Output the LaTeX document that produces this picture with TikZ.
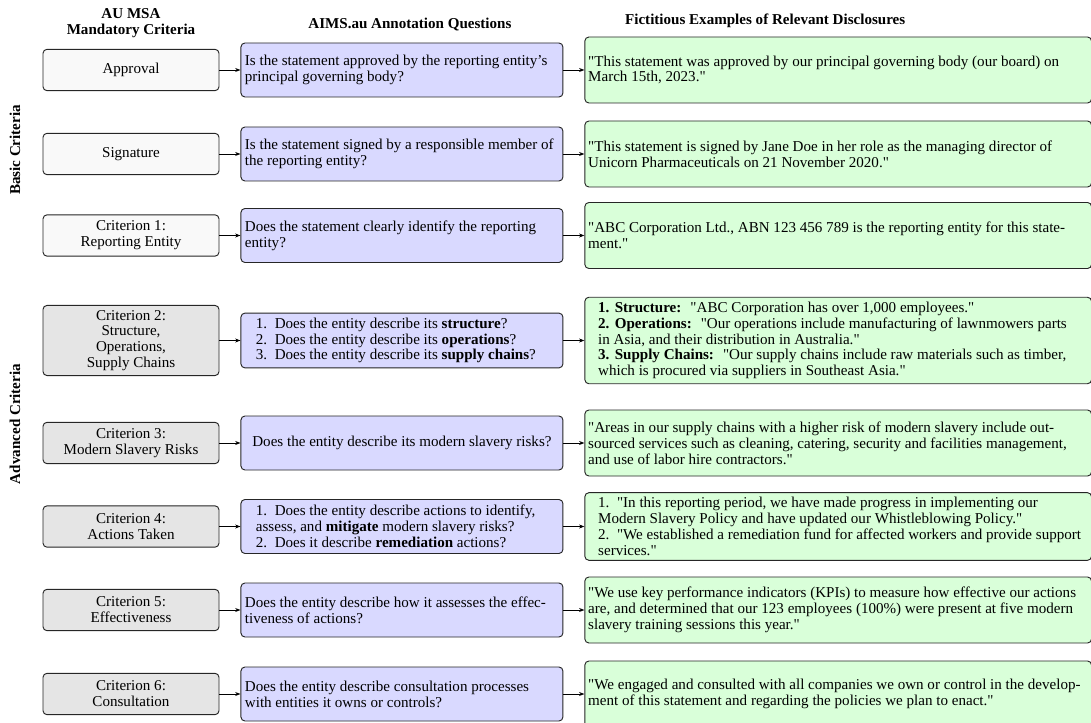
\documentclass[tikz,border=0pt]{standalone}
\usepackage{fontspec}
\setmainfont{Liberation Serif}[Ligatures=TeXOff]
\usetikzlibrary{arrows.meta, positioning}
\newcommand{\figfont}{\fontsize{11.3}{11.9}\selectfont}
\tikzset{
  crit/.style={rectangle, draw=black!85, fill=gray!5, rounded corners=3pt,
               minimum width=132pt, minimum height=31pt, inner ysep=3.5pt,
               align=flush center, font=\figfont, line width=0.7pt},
  advcrit/.style={crit, fill=gray!20},
  question/.style={rectangle, draw=black!85, fill=blue!15, rounded corners=3pt,
                   text width=235.5pt, inner xsep=3pt, inner ysep=3.5pt,
                   minimum height=40.5pt, align=flush left, font=\figfont, line width=0.7pt},
  disclosure/.style={rectangle, draw=black!85, fill=green!15, rounded corners=3pt,
                     text width=375pt, inner xsep=2.5pt, inner ysep=3.5pt,
                     minimum height=49.5pt, align=flush left, font=\figfont, line width=0.7pt},
  arrow/.style={-{Stealth[length=4pt, width=3pt]}, draw=black, line width=0.6pt},
  header/.style={font=\figfont\bfseries, align=flush center, text depth=0.25em},
  sidelabel/.style={font=\figfont\bfseries, rotate=90},
}
\begin{document}
\begin{tikzpicture}[x=0.75pt, y=-0.75pt]
  \useasboundingbox (0,0) rectangle (1091,723);

  % Criteria column
  \node[crit] (c1) at (131,70) {Approval};
  \node[crit] (c2) at (131,154) {Signature};
  \node[crit] (c3) at (131,235.5) {Criterion 1:\\Reporting Entity};
  \node[advcrit] (c4) at (131,340.5) {Criterion 2:\\Structure,\\Operations,\\Supply Chains};
  \node[advcrit] (c5) at (131,443) {Criterion 3:\\Modern Slavery Risks};
  \node[advcrit] (c6) at (131,526.5) {Criterion 4:\\Actions Taken};
  \node[advcrit] (c7) at (131,610) {Criterion 5:\\Effectiveness};
  \node[advcrit] (c8) at (131,694) {Criterion 6:\\Consultation};

  % Annotation questions
  \node[question, right=15.75pt of c1] (q1) {Is the statement approved by the reporting entity’s\\principal governing body?};
  \node[question, right=15.75pt of c2] (q2) {Is the statement signed by a responsible member of\\the reporting entity?};
  \node[question, right=15.75pt of c3] (q3) {Does the statement clearly identify the reporting\\entity?};
  \node[question, right=15.75pt of c4] (q4) {\leftskip=8.25pt
    1.\enspace Does the entity describe its \textbf{structure}?\\
    2.\enspace Does the entity describe its \textbf{operations}?\\
    3.\enspace Does the entity describe its \textbf{supply chains}?\par};
  \node[question, align=flush center, right=15.75pt of c5] (q5) {Does the entity describe its modern slavery risks?};
  \node[question, right=15.75pt of c6] (q6) {\leftskip=8.25pt
    1.\enspace Does the entity describe actions to identify,\\
    assess, and \textbf{mitigate} modern slavery risks?\\
    2.\enspace Does it describe \textbf{remediation} actions?\par};
  \node[question, right=15.75pt of c7] (q7) {Does the entity describe how it assesses the effec-\\tiveness of actions?};
  \node[question, right=15.75pt of c8] (q8) {Does the entity describe consultation processes\\with entities it owns or controls?};

  % Example disclosures
  \node[disclosure, right=15.75pt of q1] (d1) {"This statement was approved by our principal governing body (our board) on\\March 15th, 2023."};
  \node[disclosure, right=15.75pt of q2] (d2) {"This statement is signed by Jane Doe in her role as the managing director of\\Unicorn Pharmaceuticals on 21 November 2020."};
  \node[disclosure, right=15.75pt of q3] (d3) {"ABC Corporation Ltd., ABN 123 456 789 is the reporting entity for this state-\\ment."};
  \node[disclosure, right=15.75pt of q4] (d4) {\leftskip=7.5pt
    \textbf{1.\hspace{0.35em}Structure:}\hspace{0.6em}"ABC Corporation has over 1,000 employees."\\
    \textbf{2.\hspace{0.35em}Operations:}\hspace{0.6em}"Our operations include manufacturing of lawnmowers parts\\
    in Asia, and their distribution in Australia."\\
    \textbf{3.\hspace{0.35em}Supply Chains:}\hspace{0.6em}"Our supply chains include raw materials such as timber,\\
    which is procured via suppliers in Southeast Asia."\par};
  \node[disclosure, right=15.75pt of q5] (d5) {"Areas in our supply chains with a higher risk of modern slavery include out-\\sourced services such as cleaning, catering, security and facilities management,\\and use of labor hire contractors."};
  \node[disclosure, right=15.75pt of q6] (d6) {\leftskip=7.5pt
    1.\enspace "In this reporting period, we have made progress in implementing our\\
    Modern Slavery Policy and have updated our Whistleblowing Policy."\\
    2.\enspace "We established a remediation fund for affected workers and provide support\\
    services."\par};
  \node[disclosure, right=15.75pt of q7] (d7) {"We use key performance indicators (KPIs) to measure how effective our actions\\are, and determined that our 123 employees (100\%) were present at five modern\\slavery training sessions this year."};
  \node[disclosure, right=15.75pt of q8] (d8) {"We engaged and consulted with all companies we own or control in the develop-\\ment of this statement and regarding the policies we plan to enact."};

  % Column headers
  \node[header, above=4.5pt of c1] (hc) {AU MSA\\Mandatory Criteria};
  \node[header, above=4.5pt of q1, xshift=6pt] (hq) {AIMS.au Annotation Questions};
  \node[header, above=3pt of d1, xshift=-54.75pt] (hd) {Fictitious Examples of Relevant Disclosures};

  % Group labels
  \node[sidelabel] (basic) at (15,150) {Basic Criteria};
  \node[sidelabel] (advanced) at (15,424) {Advanced Criteria};

  % Edges
  \draw[arrow] (c1.east) -- (q1.west);
  \draw[arrow] (c2.east) -- (q2.west);
  \draw[arrow] (c3.east) -- (q3.west);
  \draw[arrow] (c4.east) -- (q4.west);
  \draw[arrow] (c5.east) -- (q5.west);
  \draw[arrow] (c6.east) -- (q6.west);
  \draw[arrow] (c7.east) -- (q7.west);
  \draw[arrow] (c8.east) -- (q8.west);

  \draw[arrow] (q1.east) -- (d1.west);
  \draw[arrow] (q2.east) -- (d2.west);
  \draw[arrow] (q3.east) -- (d3.west);
  \draw[arrow] (q4.east) -- (d4.west);
  \draw[arrow] (q5.east) -- (d5.west);
  \draw[arrow] (q6.east) -- (d6.west);
  \draw[arrow] (q7.east) -- (d7.west);
  \draw[arrow] (q8.east) -- (d8.west);

\end{tikzpicture}
\end{document}
